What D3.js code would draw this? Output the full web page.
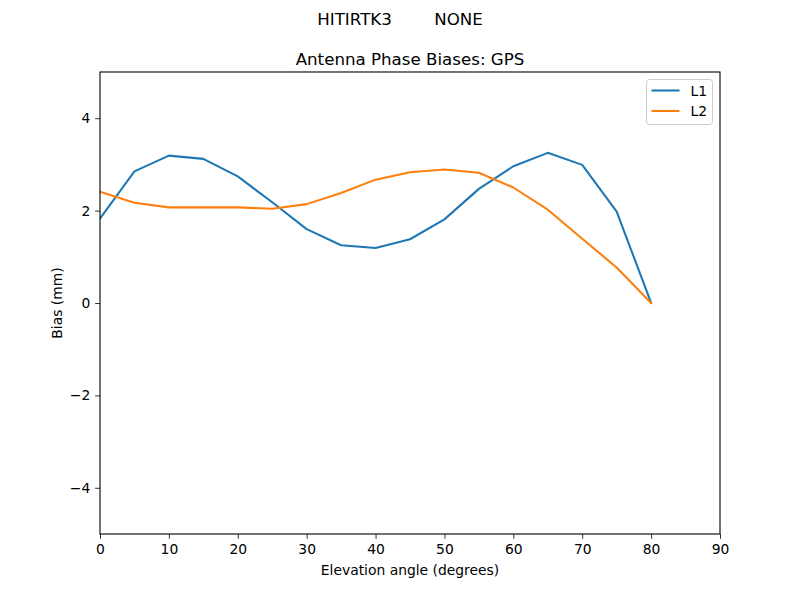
<!DOCTYPE html>
<html><head><meta charset="utf-8">
<script src="https://cdn.jsdelivr.net/npm/d3@7"></script>
<style>body{margin:0;background:#fff;} svg{display:block;font-family:"DejaVu Sans",sans-serif;}</style>
</head><body>
<svg id="c" width="800" height="600"></svg>
<script>
const elevation = [0,5,10,15,20,25,30,35,40,45,50,55,60,65,70,75,80];
const L1 = [1.83,2.85,3.19,3.12,2.74,2.18,1.60,1.25,1.19,1.38,1.81,2.47,2.96,3.25,2.99,1.98,0];
const L2 = [2.41,2.17,2.07,2.07,2.07,2.04,2.14,2.38,2.67,2.83,2.89,2.82,2.50,2.02,1.39,0.77,0];
const seriesNames = ["L1","L2"];
const colors = ["#1f77b4","#ff7f0e"];
const xTicks = [0,10,20,30,40,50,60,70,80,90];
const yTicks = [-4,-2,0,2,4];
const suptitle = "HITIRTK3        NONE";
const title = "Antenna Phase Biases: GPS";

const svg = d3.select("#c");
const L = 100, R = 720, T = 72, B = 534;
const x = d3.scaleLinear().domain([0,90]).range([L,R]);
const y = d3.scaleLinear().domain([-5,5]).range([B,T]);
const FS = 13.89, TFS = 16.67;

svg.append("text").attr("x",400).attr("y",24.5).attr("text-anchor","middle").attr("font-size",TFS).attr("fill","#000").attr("xml:space","preserve").style("white-space","pre").text(suptitle);
svg.append("text").attr("x",(L+R)/2).attr("y",65).attr("text-anchor","middle").attr("font-size",TFS).attr("fill","#000").text(title);

const xAxis = svg.append("g").attr("transform",`translate(0,${B})`)
  .call(d3.axisBottom(x).tickValues(xTicks).tickSize(4.86).tickPadding(4.86).tickFormat(d3.format("d")));
const yAxis = svg.append("g").attr("transform",`translate(${L},0)`)
  .call(d3.axisLeft(y).tickValues(yTicks).tickSize(4.86).tickPadding(4.86).tickFormat(d => d < 0 ? "\u2212" + Math.abs(d) : d));
[xAxis,yAxis].forEach(g => {
  g.select(".domain").remove();
  g.selectAll("text").attr("font-size",FS).attr("font-family","DejaVu Sans, sans-serif").attr("fill","#000");
  g.selectAll("line").attr("stroke","#000").attr("stroke-width",0.8);
});

const data = [L1,L2];
const line = d3.line().x((d,i)=>x(elevation[i])).y(d=>y(d));
svg.append("clipPath").attr("id","clp").append("rect").attr("x",L).attr("y",T).attr("width",R-L).attr("height",B-T);
data.forEach((s,k)=>{
  svg.append("path").datum(s).attr("d",line).attr("fill","none").attr("stroke",colors[k]).attr("stroke-width",2.08).attr("clip-path","url(#clp)").attr("stroke-linejoin","round").attr("stroke-linecap","square");
});

svg.append("rect").attr("x",L).attr("y",T).attr("width",R-L).attr("height",B-T).attr("fill","none").attr("stroke","#000").attr("stroke-width",1.1);

svg.append("text").attr("x",(L+R)/2).attr("y",575).attr("text-anchor","middle").attr("font-size",FS).attr("fill","#000").text("Elevation angle (degrees)");
svg.append("text").attr("transform",`translate(61.5,${(T+B)/2}) rotate(-90)`).attr("text-anchor","middle").attr("font-size",FS).attr("fill","#000").text("Bias (mm)");

// legend
const lg = svg.append("g");
lg.append("rect").attr("x",646.5).attr("y",79.5).attr("width",66).attr("height",45).attr("rx",3).attr("fill","#fff").attr("fill-opacity",0.8).attr("stroke","#ccc").attr("stroke-width",1);
seriesNames.forEach((n,k)=>{
  const yy = 90.5 + k*20.5;
  lg.append("line").attr("x1",651.5).attr("x2",679.5).attr("y1",yy).attr("y2",yy).attr("stroke",colors[k]).attr("stroke-width",2.08);
  lg.append("text").attr("x",690.5).attr("y",yy+5).attr("font-size",FS).attr("fill","#000").text(n);
});
</script>
</body></html>
